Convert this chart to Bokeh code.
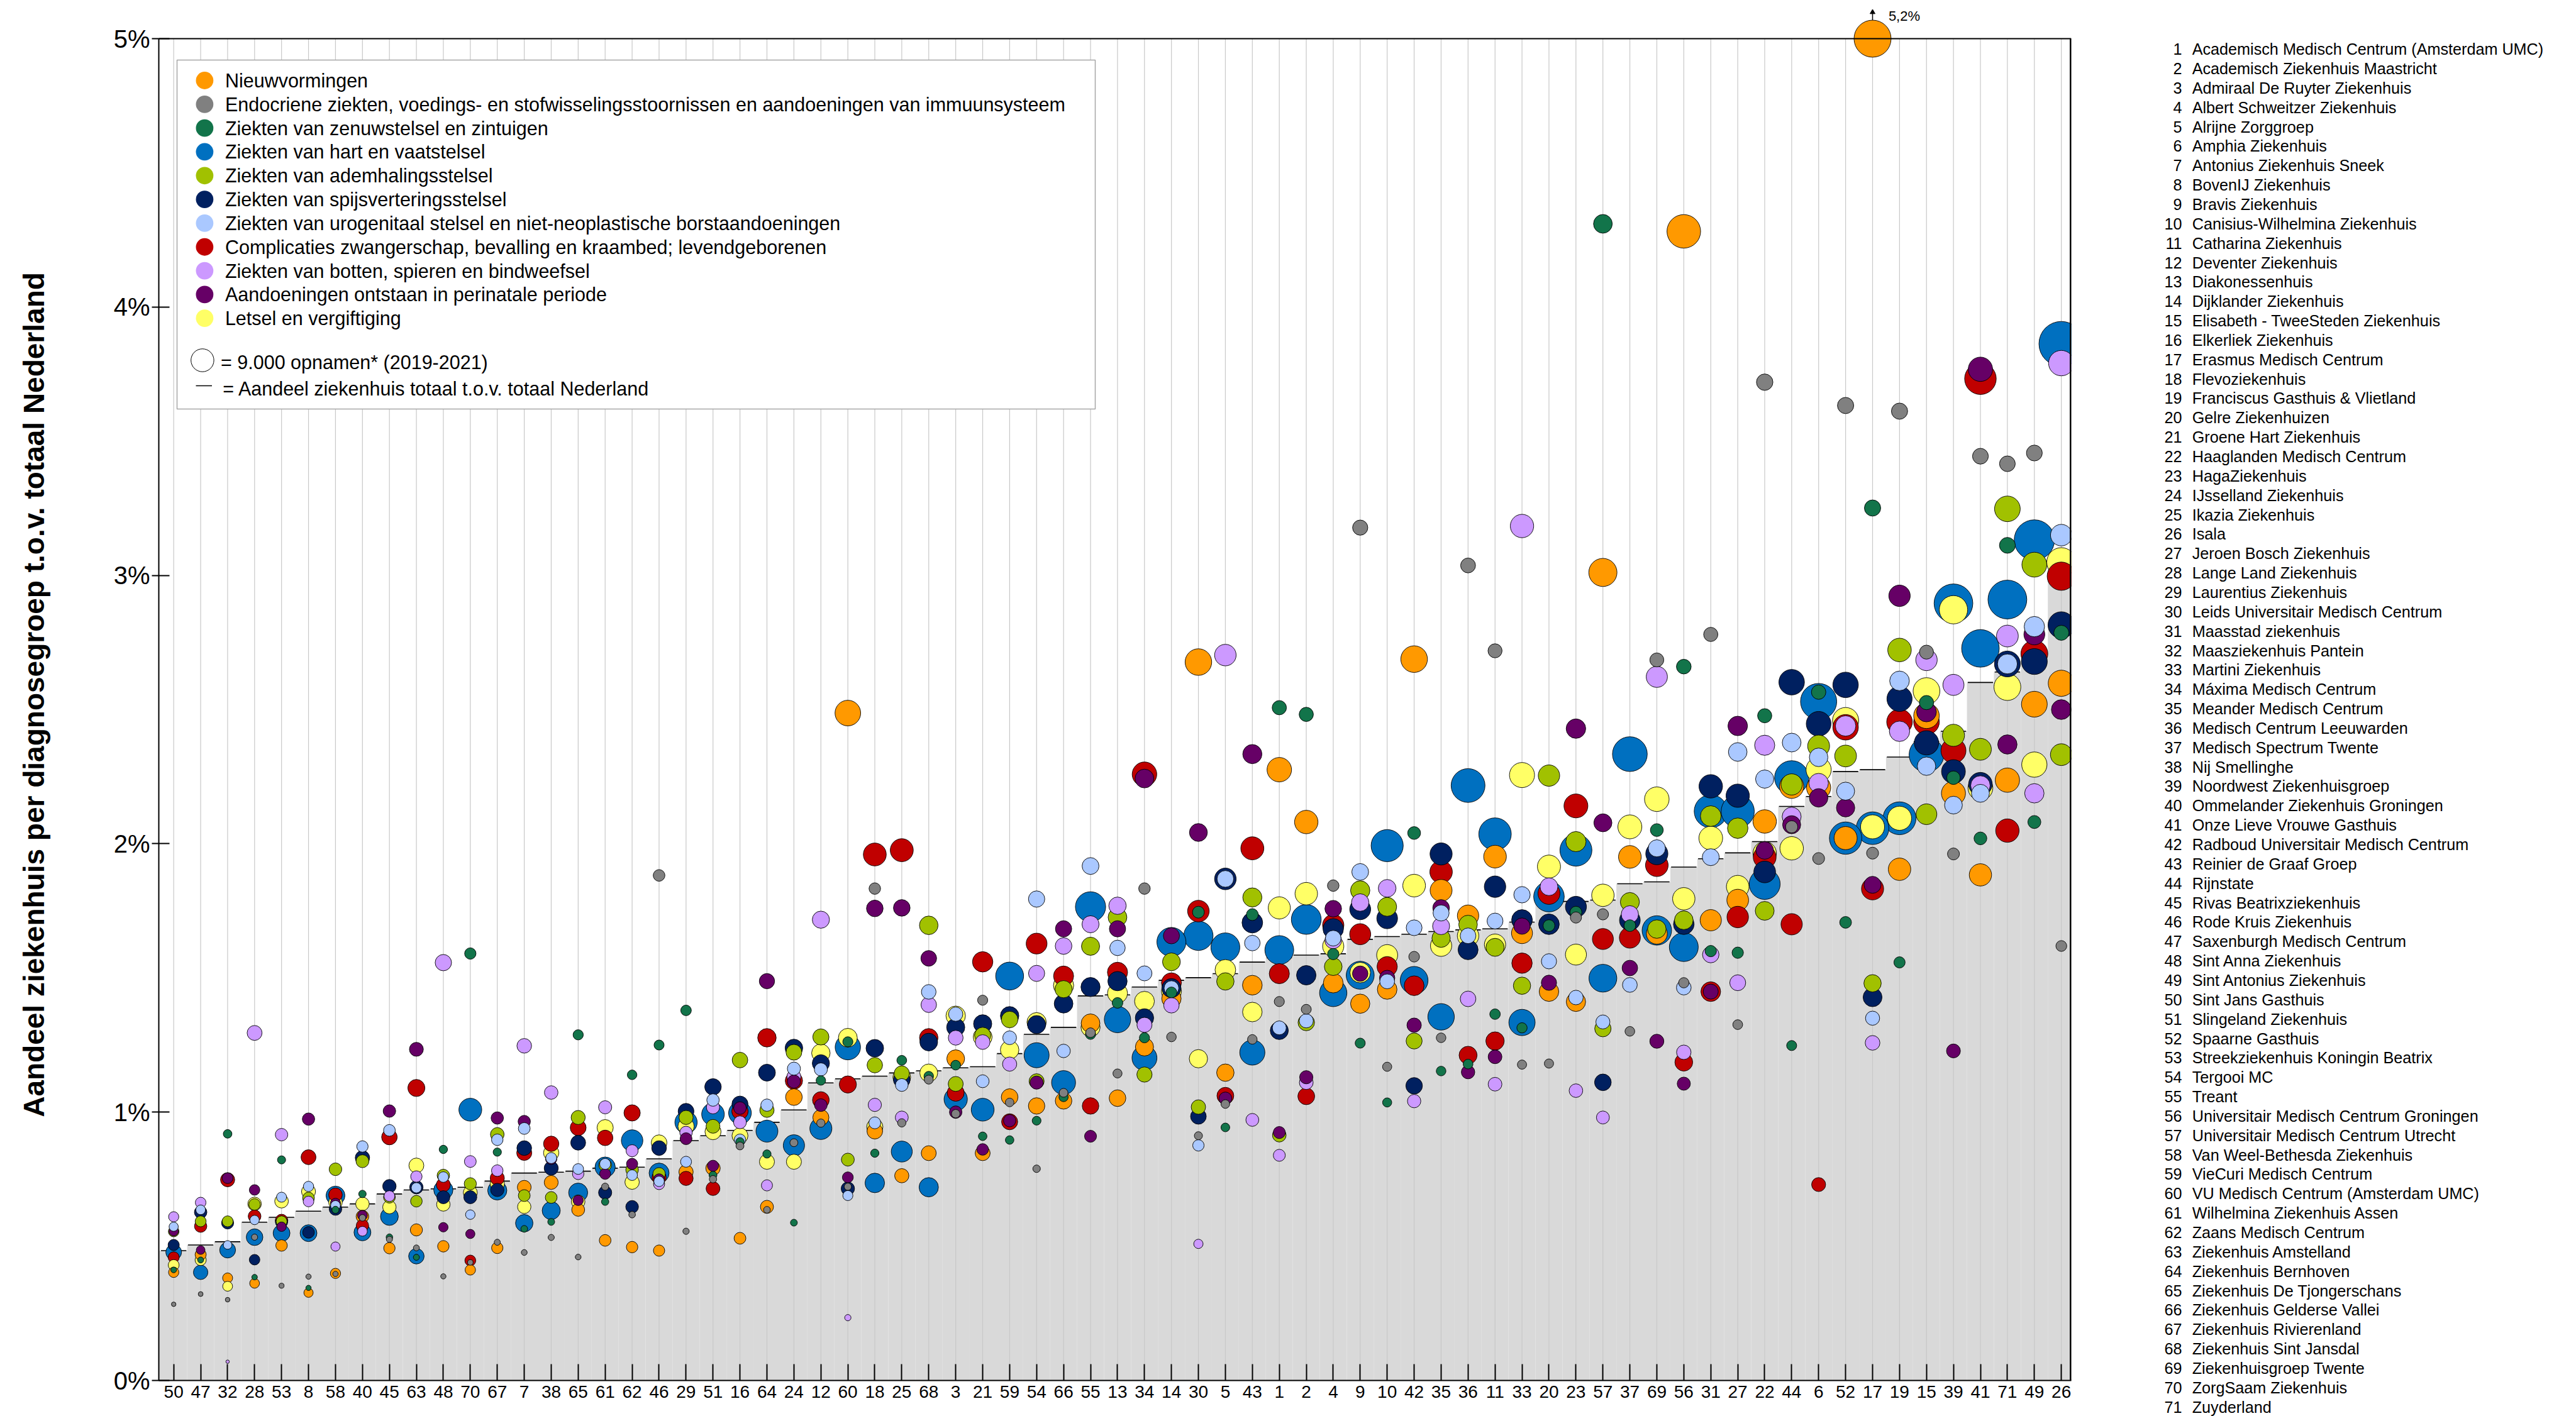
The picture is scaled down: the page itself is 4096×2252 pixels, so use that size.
import html
import numpy as np
from bokeh.plotting import figure
from bokeh.layouts import row
from bokeh.models import Range1d, FixedTicker, ColumnDataSource, Div
from bokeh.core.properties import value
from bokeh.embed import file_html
from bokeh.resources import INLINE

FONT = "Liberation Sans"

# ---------------- data ----------------
hospital_order = [50, 47, 32, 28, 53, 8, 58, 40, 45, 63,
                  48, 70, 67, 7, 38, 65, 61, 62, 46, 29,
                  51, 16, 64, 24, 12, 60, 18, 25, 68, 3,
                  21, 59, 54, 66, 55, 13, 34, 14, 30, 5,
                  43, 1, 2, 4, 9, 10, 42, 35, 36, 11,
                  33, 20, 23, 57, 37, 69, 56, 31, 27, 22,
                  44, 6, 52, 17, 19, 15, 39, 41, 71, 49, 26]

hospital_total = [0.484, 0.505, 0.517, 0.59, 0.608, 0.631, 0.646, 0.658, 0.695, 0.71,
                  0.714, 0.72, 0.743, 0.773, 0.776, 0.78, 0.791, 0.795, 0.826, 0.894,
                  0.912, 0.932, 0.962, 1.008, 1.109, 1.124, 1.134, 1.146, 1.154, 1.165,
                  1.169, 1.218, 1.29, 1.316, 1.433, 1.437, 1.466, 1.491, 1.501, 1.516,
                  1.559, 1.575, 1.585, 1.59, 1.644, 1.654, 1.663, 1.673, 1.679, 1.683,
                  1.708, 1.775, 1.785, 1.79, 1.851, 1.858, 1.913, 1.944, 1.966, 2.008,
                  2.139, 2.176, 2.269, 2.276, 2.323, 2.381, 2.419, 2.601, 2.64, 2.69, 3.03]

categories = [
    "Nieuwvormingen",
    "Endocriene ziekten, voedings- en stofwisselingsstoornissen en aandoeningen van immuunsysteem",
    "Ziekten van zenuwstelsel en zintuigen",
    "Ziekten van hart en vaatstelsel",
    "Ziekten van ademhalingsstelsel",
    "Ziekten van spijsverteringsstelsel",
    "Ziekten van urogenitaal stelsel en niet-neoplastische borstaandoeningen",
    "Complicaties zwangerschap, bevalling en kraambed; levendgeborenen",
    "Ziekten van botten, spieren en bindweefsel",
    "Aandoeningen ontstaan in perinatale periode",
    "Letsel en vergiftiging",
]
category_colors = ["#FF9900", "#808080", "#12744A", "#0070C0", "#A1C100", "#002060",
                   "#AAC8FF", "#C00000", "#CC99FF", "#660066", "#FFFF66"]
# estimated national admissions per diagnosis group (2019-2021), used for bubble area
national_admissions = [454000, 125000, 140000, 890000, 350000, 430000,
                       255000, 460000, 295000, 270000, 480000]

share_nieuwvormingen = [0.403, 0.469, 0.382, 0.362, 0.503, 0.327, 0.399, 0.611, 0.493, 0.561,
                        0.5, 0.412, 0.494, 0.72, 0.738, 0.636, 0.522, 0.497, 0.484, 0.777,
                        0.791, 0.53, 0.647, 1.056, 0.98, 2.487, 0.929, 0.763, 0.847, 1.199,
                        0.847, 1.056, 1.023, 1.042, 1.331, 1.052, 1.243, 1.423, 2.677, 1.147,
                        1.473, 2.276, 2.081, 1.481, 1.404, 1.457, 2.688, 1.826, 1.732, 1.952,
                        1.667, 1.449, 1.411, 3.011, 1.951, 1.665, 4.282, 1.715, 1.79, 2.083,
                        2.214, 2.209, 2.021, 5.2, 1.905, 2.477, 2.188, 1.884, 2.237, 2.52, 2.598]
share_endocrien = [0.284, 0.322, 0.301, 0.534, 0.353, 0.387, 0.397, 0.606, 0.526, 0.494,
                   0.388, 0.44, 0.515, 0.477, 0.533, 0.46, 0.722, 0.618, 1.882, 0.556,
                   0.75, 0.874, 0.636, 0.886, 0.959, 0.722, 1.833, 0.96, 1.121, 0.994,
                   1.417, 1.036, 0.789, 1.072, 1.296, 1.144, 1.833, 1.28, 0.912, 1.03,
                   1.271, 1.412, 1.383, 1.844, 3.178, 1.169, 1.579, 1.277, 3.037, 2.719,
                   1.177, 1.181, 1.725, 1.737, 1.301, 2.685, 1.482, 2.78, 1.326, 3.72,
                   2.063, 1.945, 3.633, 1.965, 3.612, 2.714, 1.962, 3.444, 3.416, 3.456, 1.619]
share_zenuwstelsel = [0.412, 0.449, 0.919, 0.385, 0.822, 0.345, 0.636, 0.695, 0.534, 0.459,
                      0.861, 1.591, 0.851, 0.565, 0.591, 1.288, 0.666, 1.139, 1.25, 1.379,
                      0.765, 0.889, 0.844, 0.588, 1.118, 1.262, 0.847, 1.193, 1.134, 1.175,
                      0.91, 0.896, 0.968, 1.056, 1.29, 1.407, 1.277, 1.446, 1.745, 0.943,
                      1.736, 2.507, 2.482, 1.589, 1.257, 1.036, 2.04, 1.153, 1.179, 1.365,
                      1.314, 1.695, 1.745, 4.31, 1.695, 2.051, 2.66, 1.6, 1.594, 2.477,
                      1.248, 2.565, 1.707, 3.251, 1.558, 2.526, 2.246, 2.02, 3.112, 2.081, 2.786]
share_hart_vaat = [0.478, 0.403, 0.486, 0.534, 0.549, 0.549, 0.689, 0.552, 0.611, 0.463,
                   0.71, 1.009, 0.708, 0.586, 0.633, 0.7, 0.795, 0.894, 0.773, 0.962,
                   0.992, 0.997, 0.929, 0.876, 0.939, 1.242, 0.736, 0.853, 0.72, 1.048,
                   1.009, 1.507, 1.212, 1.11, 1.765, 1.345, 1.202, 1.634, 1.657, 1.614,
                   1.222, 1.604, 1.718, 1.444, 1.51, 1.993, 1.491, 1.355, 2.217, 2.036,
                   1.334, 1.803, 1.976, 1.499, 2.334, 1.677, 1.615, 2.121, 2.121, 1.85,
                   2.246, 2.53, 2.021, 2.058, 2.095, 2.332, 2.896, 2.728, 2.91, 3.132, 3.863]
share_ademhaling = [0.555, 0.593, 0.593, 0.656, 0.593, 0.68, 0.787, 0.817, 0.683, 0.668,
                    0.764, 0.733, 0.917, 0.689, 0.682, 0.98, 0.803, 0.785, 0.77, 0.98,
                    0.947, 1.194, 1.007, 1.223, 1.28, 0.823, 1.175, 1.144, 1.696, 1.105,
                    1.286, 1.345, 1.115, 1.458, 1.618, 1.726, 1.14, 1.56, 1.019, 1.487,
                    1.8, 0.914, 1.334, 1.542, 1.826, 1.765, 1.265, 1.648, 1.699, 1.614,
                    1.471, 2.254, 2.008, 1.311, 1.783, 1.682, 1.715, 2.103, 2.058, 1.75,
                    2.221, 2.364, 2.327, 1.48, 2.722, 2.11, 2.404, 2.352, 3.248, 3.04, 2.332]
share_spijsvertering = [0.505, 0.627, 0.587, 0.45, 0.59, 0.552, 0.639, 0.83, 0.724, 0.72,
                        0.683, 0.683, 0.71, 0.866, 0.791, 0.886, 0.7, 0.647, 0.866, 1.003,
                        1.094, 1.03, 1.147, 1.239, 1.182, 0.715, 1.238, 1.121, 1.261, 1.316,
                        1.329, 1.359, 1.326, 1.404, 1.466, 1.488, 1.351, 1.462, 0.984, 1.869,
                        1.706, 1.304, 1.51, 1.683, 1.756, 1.722, 1.098, 1.962, 1.605, 1.84,
                        1.716, 1.7, 1.765, 1.111, 1.715, 1.963, 1.7, 2.214, 2.179, 1.895,
                        2.602, 2.447, 2.592, 1.428, 2.54, 2.376, 2.269, 2.222, 2.67, 2.679, 2.815]
share_urogenitaal = [0.573, 0.636, 0.505, 0.598, 0.683, 0.723, 0.652, 0.872, 0.932, 0.718,
                     0.758, 0.618, 0.897, 0.939, 0.829, 0.788, 0.807, 0.765, 0.742, 0.815,
                     1.045, 0.897, 1.026, 1.162, 1.159, 0.689, 0.96, 1.101, 1.448, 1.365,
                     1.115, 1.277, 1.794, 1.228, 1.917, 1.612, 1.517, 1.462, 0.876, 1.869,
                     1.63, 1.314, 1.34, 1.648, 1.895, 1.487, 1.687, 1.742, 1.657, 1.712,
                     1.81, 1.562, 1.427, 1.336, 1.474, 1.983, 1.464, 1.95, 2.342, 2.241,
                     2.377, 2.322, 2.196, 1.35, 2.607, 2.289, 2.144, 2.188, 2.67, 2.809, 3.15]
share_zwangerschap = [0.459, 0.575, 0.748, 0.612, 0.596, 0.832, 0.692, 0.577, 0.907, 1.09,
                      0.729, 0.447, 0.754, 0.848, 0.882, 0.942, 0.904, 0.997, 0.757, 0.753,
                      0.715, 1.003, 1.277, 1.117, 1.045, 1.103, 1.96, 1.976, 1.277, 1.072,
                      1.56, 0.964, 1.628, 1.507, 1.023, 1.521, 2.259, 1.482, 1.749, 1.061,
                      1.983, 1.516, 1.059, 1.697, 1.663, 1.542, 1.471, 1.895, 1.212, 1.265,
                      1.555, 1.815, 2.141, 1.645, 1.65, 1.92, 1.186, 1.449, 1.727, 1.95,
                      1.7, 0.73, 2.434, 1.832, 2.454, 2.454, 2.347, 3.733, 2.049, 2.708, 2.997]
share_botten = [0.61, 0.663, 0.07, 1.295, 0.916, 0.667, 0.499, 0.556, 0.687, 0.76,
                1.557, 0.816, 0.782, 1.247, 1.073, 0.77, 1.018, 0.856, 0.732, 0.924,
                1.018, 0.962, 0.727, 1.132, 1.717, 0.234, 1.027, 0.98, 1.4, 1.277,
                1.261, 1.179, 1.517, 1.619, 1.7, 1.769, 1.325, 1.398, 0.509, 2.703,
                0.971, 0.839, 1.11, 1.64, 1.781, 1.834, 1.041, 1.693, 1.422, 1.104,
                3.184, 1.84, 1.08, 0.98, 1.737, 2.622, 1.223, 1.587, 1.482, 2.367,
                2.101, 2.226, 2.439, 1.258, 2.419, 2.685, 2.592, 2.217, 2.774, 2.188, 3.791]
share_perinataal = [0.556, 0.486, 0.754, 0.71, 0.573, 0.974, 0.66, 0.615, 1.004, 1.234,
                    0.571, 0.546, 0.978, 0.965, 0.826, 0.671, 0.77, 0.807, 0.75, 0.901,
                    0.8, 1.015, 1.488, 1.114, 1.026, 0.757, 1.759, 1.761, 1.573, 1.0,
                    0.861, 0.968, 1.11, 1.683, 0.91, 1.683, 2.243, 1.657, 2.042, 1.051,
                    2.334, 0.924, 1.13, 1.758, 1.516, 1.5, 1.324, 1.761, 1.149, 1.206,
                    1.693, 1.482, 2.429, 2.078, 1.537, 1.264, 1.106, 1.449, 2.439, 1.975,
                    2.071, 2.171, 2.134, 1.847, 2.924, 2.491, 1.228, 3.768, 2.37, 2.78, 2.5]
share_letsel = [0.43, 0.449, 0.351, 0.658, 0.668, 0.704, 0.664, 0.658, 0.646, 0.801,
                0.656, 0.7, 0.733, 0.647, 0.848, 0.666, 0.942, 0.739, 0.886, 0.947,
                0.927, 0.912, 0.815, 0.815, 1.22, 1.277, 0.945, 1.13, 1.146, 1.359,
                1.28, 1.232, 1.335, 1.472, 1.316, 1.443, 1.413, 1.45, 1.199, 1.53,
                1.373, 1.761, 1.814, 1.618, 1.52, 1.585, 1.844, 1.62, 1.657, 1.624,
                2.256, 1.915, 1.587, 1.808, 2.063, 2.166, 1.795, 2.021, 1.84, 1.965,
                1.983, 2.276, 2.459, 2.063, 2.095, 2.569, 2.872, 2.208, 2.584, 2.295, 3.049]

hospital_names = [
    "Academisch Medisch Centrum (Amsterdam UMC)", "Academisch Ziekenhuis Maastricht",
    "Admiraal De Ruyter Ziekenhuis", "Albert Schweitzer Ziekenhuis", "Alrijne Zorggroep",
    "Amphia Ziekenhuis", "Antonius Ziekenhuis Sneek", "BovenIJ Ziekenhuis", "Bravis Ziekenhuis",
    "Canisius-Wilhelmina Ziekenhuis", "Catharina Ziekenhuis", "Deventer Ziekenhuis",
    "Diakonessenhuis", "Dijklander Ziekenhuis", "Elisabeth - TweeSteden Ziekenhuis",
    "Elkerliek Ziekenhuis", "Erasmus Medisch Centrum", "Flevoziekenhuis",
    "Franciscus Gasthuis & Vlietland", "Gelre Ziekenhuizen", "Groene Hart Ziekenhuis",
    "Haaglanden Medisch Centrum", "HagaZiekenhuis", "IJsselland Ziekenhuis", "Ikazia Ziekenhuis",
    "Isala", "Jeroen Bosch Ziekenhuis", "Lange Land Ziekenhuis", "Laurentius Ziekenhuis",
    "Leids Universitair Medisch Centrum", "Maasstad ziekenhuis", "Maasziekenhuis Pantein",
    "Martini Ziekenhuis", "Máxima Medisch Centrum", "Meander Medisch Centrum",
    "Medisch Centrum Leeuwarden", "Medisch Spectrum Twente", "Nij Smellinghe",
    "Noordwest Ziekenhuisgroep", "Ommelander Ziekenhuis Groningen", "Onze Lieve Vrouwe Gasthuis",
    "Radboud Universitair Medisch Centrum", "Reinier de Graaf Groep", "Rijnstate",
    "Rivas Beatrixziekenhuis", "Rode Kruis Ziekenhuis", "Saxenburgh Medisch Centrum",
    "Sint Anna Ziekenhuis", "Sint Antonius Ziekenhuis", "Sint Jans Gasthuis",
    "Slingeland Ziekenhuis", "Spaarne Gasthuis", "Streekziekenhuis Koningin Beatrix",
    "Tergooi MC", "Treant", "Universitair Medisch Centrum Groningen",
    "Universitair Medisch Centrum Utrecht", "Van Weel-Bethesda Ziekenhuis",
    "VieCuri Medisch Centrum", "VU Medisch Centrum (Amsterdam UMC)",
    "Wilhelmina Ziekenhuis Assen", "Zaans Medisch Centrum", "Ziekenhuis Amstelland",
    "Ziekenhuis Bernhoven", "Ziekenhuis De Tjongerschans", "Ziekenhuis Gelderse Vallei",
    "Ziekenhuis Rivierenland", "Ziekenhuis Sint Jansdal", "Ziekenhuisgroep Twente",
    "ZorgSaam Ziekenhuis", "Zuyderland",
]

series = [share_nieuwvormingen, share_endocrien, share_zenuwstelsel, share_hart_vaat,
          share_ademhaling, share_spijsvertering, share_urogenitaal, share_zwangerschap,
          share_botten, share_perinataal, share_letsel]

REF_ADMISSIONS = 9000      # legend bubble
REF_DIAMETER = 36.4        # px for REF_ADMISSIONS
Y_MAX = 5.0

# ---------------- layout ----------------
TOTAL_W, TOTAL_H = 4094, 2250
FW, FH = 3041, 2181
BORDER_L, BORDER_R, BORDER_T, BORDER_B = 252, 10, 14, 55
MAIN_W = BORDER_L + FW + BORDER_R
LIST_W = TOTAL_W - MAIN_W
X0, X1 = 0.448, 71.37
PX_PER_PCT = 426.8
Y1 = FH / PX_PER_PCT


def dx(px):
    return X0 + px * (X1 - X0) / FW


def dy(py):
    return Y1 - py / PX_PER_PCT


p = figure(frame_width=FW, frame_height=FH,
           x_range=Range1d(X0, X1), y_range=Range1d(0, Y1),
           min_border_left=BORDER_L, min_border_right=BORDER_R,
           min_border_top=BORDER_T, min_border_bottom=BORDER_B,
           output_backend="svg", toolbar_location=None,
           outline_line_color=None, background_fill_color="white", border_fill_color="white")
p.xgrid.grid_line_color = None
p.ygrid.grid_line_color = None

xs = np.arange(1, len(hospital_order) + 1)
tot = np.array(hospital_total)
lefts = (xs - 0.5).astype(float)
rights = (xs + 0.5).astype(float)
lefts[0] = X0
rights[-1] = X1

# stepped grey area
p.quad(left=lefts, right=rights, bottom=0, top=tot, fill_color="#D9D9D9", line_color=None)
# vertical gridlines
p.segment(x0=xs, y0=0, x1=xs, y1=Y_MAX, line_color="#C8C8C8", line_width=1.2)
# total markers
p.segment(x0=xs - 0.47, x1=xs + 0.47, y0=tot, y1=tot, line_color="black", line_width=1.6)

# bubbles
bx, by, bs, bc = [], [], [], []
over = []
for ci, vals in enumerate(series):
    for hi, v in enumerate(vals):
        d = REF_DIAMETER * np.sqrt(v / 100.0 * national_admissions[ci] / REF_ADMISSIONS)
        bx.append(hi + 1)
        by.append(min(v, Y_MAX))
        bs.append(d)
        bc.append(category_colors[ci])
        if v > Y_MAX:
            over.append((hi + 1, v, d))
order = np.argsort(-np.array(bs), kind="stable")
src = ColumnDataSource(dict(x=np.array(bx)[order], y=np.array(by)[order],
                            size=np.array(bs)[order], color=np.array(bc)[order]))
p.scatter("x", "y", size="size", fill_color="color", line_color="black", line_width=0.9,
          marker="circle", source=src)

# out of range marks
for (hx, v, d) in over:
    top_y = Y_MAX + d / 2 / PX_PER_PCT
    p.segment(x0=[hx], x1=[hx], y0=[top_y], y1=[dy(6)], line_color="black", line_width=1.5)
    p.scatter(x=[hx], y=[dy(5)], size=8, marker="triangle", fill_color="black", line_color="black")
    p.text(x=[hx + 25.4 * (X1 - X0) / FW], y=[dy(10.7)],
           text=[("%.1f" % v).replace(".", ",") + "%"],
           text_font=value(FONT), text_font_size="22px", text_baseline="middle",
           text_align="left", text_color="black")

# borders (top & right)
p.segment(x0=[X0], x1=[X1], y0=[Y_MAX], y1=[Y_MAX], line_color="black", line_width=2)
p.segment(x0=[X1], x1=[X1], y0=[0], y1=[Y_MAX], line_color="black", line_width=5)

# ---------------- legend ----------------
p.quad(left=[dx(29)], right=[dx(1489)], top=[dy(81)], bottom=[dy(636)],
       fill_color="white", line_color="#A6A6A6", line_width=1.5)
leg_rows = 113.5 + 37.82 * np.arange(len(categories))
p.scatter(x=[dx(72.9)] * len(categories), y=[dy(r) for r in leg_rows], size=27.8,
          marker="circle", fill_color=category_colors, line_color=None)
p.text(x=[dx(105.4)] * len(categories), y=[dy(r) for r in leg_rows], text=categories,
       text_font=value(FONT), text_font_size="30.5px", text_baseline="middle",
       text_align="left", text_color="black")
p.scatter(x=[dx(69.4)], y=[dy(558.5)], size=REF_DIAMETER, marker="circle",
          fill_color="white", line_color="black", line_width=1)
p.text(x=[dx(98.5)], y=[dy(561)],
       text=["= %s opnamen* (2019-2021)" % format(REF_ADMISSIONS, ",").replace(",", ".")],
       text_font=value(FONT), text_font_size="30.5px", text_baseline="middle",
       text_align="left", text_color="black")
p.segment(x0=[dx(59)], x1=[dx(84.5)], y0=[dy(599)], y1=[dy(599)], line_color="black", line_width=1.5)
p.text(x=[dx(101.8)], y=[dy(603.5)], text=["= Aandeel ziekenhuis totaal t.o.v. totaal Nederland"],
       text_font=value(FONT), text_font_size="30.5px", text_baseline="middle",
       text_align="left", text_color="black")

# ---------------- axes ----------------
xa = p.xaxis[0]
xa.ticker = FixedTicker(ticks=[int(v) for v in xs])
xa.major_label_overrides = {int(i + 1): str(h) for i, h in enumerate(hospital_order)}
xa.major_label_text_font = FONT
xa.major_label_text_font_size = "28px"
xa.major_label_text_color = "black"
xa.major_tick_in = 26
xa.major_tick_out = 0
xa.major_tick_line_width = 2
xa.major_tick_line_color = "black"
xa.minor_tick_line_color = None
xa.axis_line_width = 2
xa.axis_line_color = "black"
xa.major_label_standoff = 8

ya = p.yaxis[0]
ya.ticker = FixedTicker(ticks=[0, 1, 2, 3, 4, 5])
ya.major_label_overrides = {t: "%d%%" % t for t in range(6)}
ya.bounds = (0, Y_MAX)
ya.major_label_text_font = FONT
ya.major_label_text_font_size = "40px"
ya.major_label_text_color = "black"
ya.major_tick_in = 17
ya.major_tick_out = 11
ya.major_tick_line_width = 2
ya.major_tick_line_color = "black"
ya.minor_tick_line_color = None
ya.axis_line_width = 2
ya.axis_line_color = "black"
ya.major_label_standoff = 3
ya.axis_label = "Aandeel ziekenhuis per diagnosegroep t.o.v. totaal Nederland"
ya.axis_label_text_font = FONT
ya.axis_label_text_font_size = "46px"
ya.axis_label_text_font_style = "bold"
ya.axis_label_text_color = "black"
ya.axis_label_standoff = 98

# ---------------- hospital list (panel on the right) ----------------
NUM_RIGHT = 3469.6 - MAIN_W
NAME_LEFT = 3485.7 - MAIN_W
ROW0, ROW_STEP, LINE_H = 78.1, 30.85, 30
parts = []
for r, name in enumerate(hospital_names):
    top = ROW0 + ROW_STEP * r - LINE_H / 2
    parts.append(
        '<div style="position:absolute;top:%.1fpx;left:0px;width:%.1fpx;text-align:right;'
        'line-height:%dpx;white-space:nowrap;">%d</div>' % (top, NUM_RIGHT, LINE_H, r + 1))
    parts.append(
        '<div style="position:absolute;top:%.1fpx;left:%.1fpx;line-height:%dpx;'
        'white-space:nowrap;">%s</div>' % (top, NAME_LEFT, LINE_H, html.escape(name)))
list_html = ('<div style="position:relative;width:%dpx;height:%dpx;font-family:\'%s\',Arial,sans-serif;'
             'font-size:25.2px;color:#000;">%s</div>' % (LIST_W, TOTAL_H, FONT, "".join(parts)))
hospital_list = Div(text=list_html, width=LIST_W, height=TOTAL_H, margin=(0, 0, 0, 0))

layout = row(p, hospital_list, spacing=0)
open("out.html", "w").write(file_html(layout, INLINE))
